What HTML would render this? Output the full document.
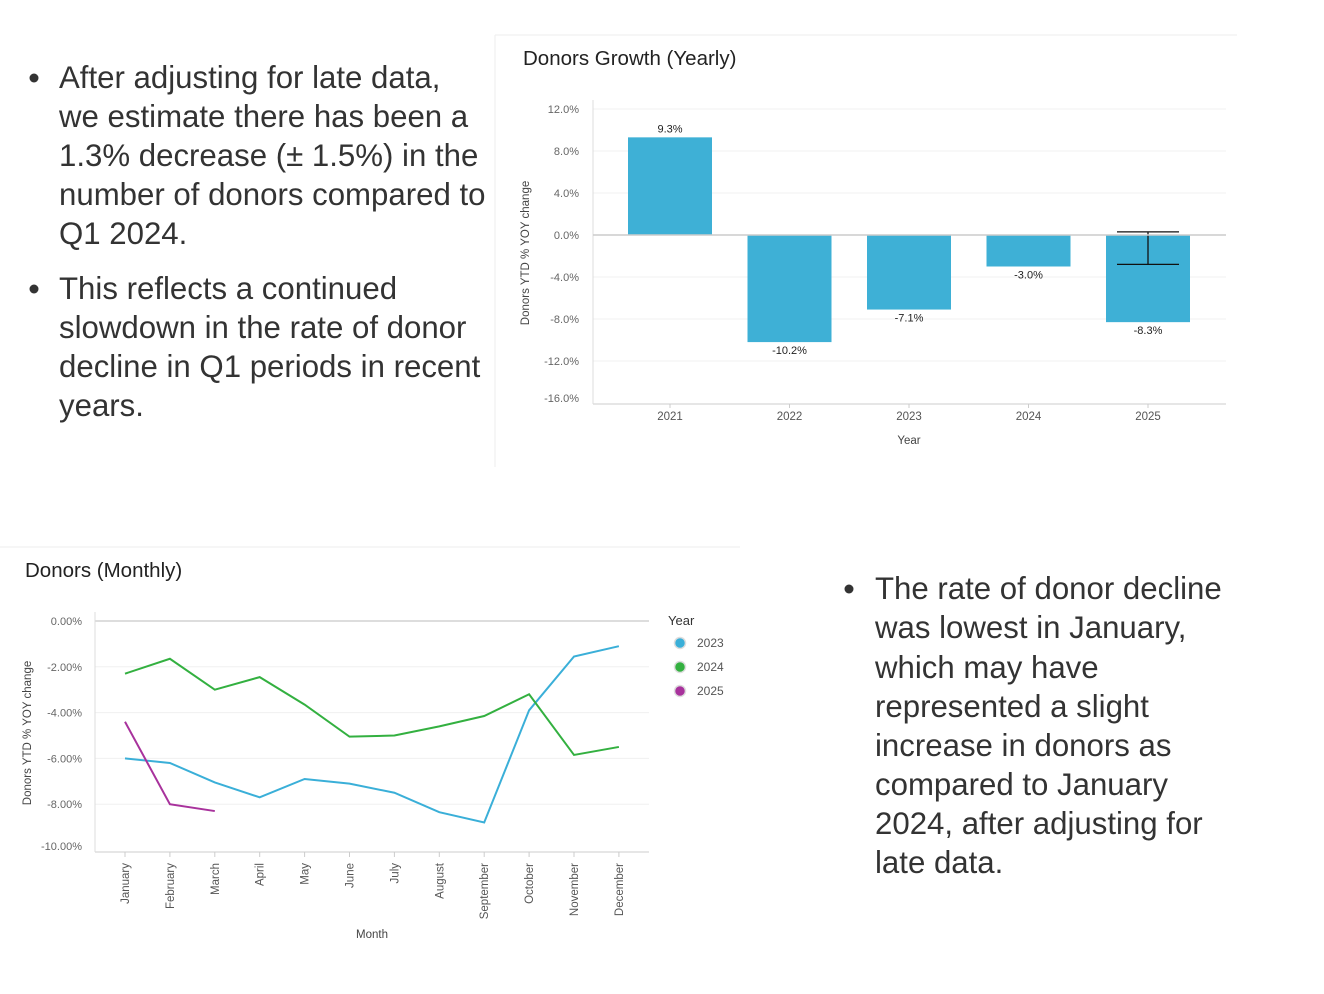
<!DOCTYPE html>
<html><head><meta charset="utf-8"><style>
body{margin:0;background:#fff;width:1324px;height:994px;overflow:hidden}
svg{display:block}
.t{font-family:"Liberation Sans",sans-serif;font-size:31.2px;fill:#333}
.s{font-family:"Liberation Sans",sans-serif}
</style></head><body>
<svg id="root" width="1324" height="994" xmlns="http://www.w3.org/2000/svg">
<g>
<circle cx="34" cy="78" r="4.5" fill="#333"/><circle cx="34" cy="289" r="4.5" fill="#333"/>
<text class="t" x="59" y="88">After adjusting for late data,</text>
<text class="t" x="59" y="127">we estimate there has been a</text>
<text class="t" x="59" y="166">1.3% decrease (± 1.5%) in the</text>
<text class="t" x="59" y="205">number of donors compared to</text>
<text class="t" x="59" y="244">Q1 2024.</text>
<text class="t" x="59" y="299">This reflects a continued</text>
<text class="t" x="59" y="338">slowdown in the rate of donor</text>
<text class="t" x="59" y="377">decline in Q1 periods in recent</text>
<text class="t" x="59" y="416">years.</text>
</g>
<g>
<circle cx="849" cy="589" r="4.5" fill="#333"/>
<text class="t" x="875" y="599">The rate of donor decline</text>
<text class="t" x="875" y="638">was lowest in January,</text>
<text class="t" x="875" y="678">which may have</text>
<text class="t" x="875" y="717">represented a slight</text>
<text class="t" x="875" y="756">increase in donors as</text>
<text class="t" x="875" y="795">compared to January</text>
<text class="t" x="875" y="834">2024, after adjusting for</text>
<text class="t" x="875" y="873">late data.</text>
</g>
<line x1="495" y1="35" x2="1237" y2="35" stroke="#eee"/>
<line x1="495" y1="35" x2="495" y2="467" stroke="#eee"/>
<line x1="0" y1="547" x2="740" y2="547" stroke="#eee"/>
<text class="s" x="523" y="65" font-size="20.5" fill="#222">Donors Growth (Yearly)</text>
<text class="s" x="25" y="577" font-size="20.5" fill="#222">Donors (Monthly)</text>
<g id="bar"></g>
<g id="line"></g>
</svg>
<script>
const NS='http://www.w3.org/2000/svg';
function mk(p,tag,a,txt){const e=document.createElementNS(NS,tag);for(const k in a)e.setAttribute(k,a[k]);if(txt!=null)e.textContent=txt;p.appendChild(e);return e;}
// ---- bar chart data
const years=['2021','2022','2023','2024','2025'];
const growth=[9.3,-10.2,-7.1,-3.0,-8.3];
const growthLabels=['9.3%','-10.2%','-7.1%','-3.0%','-8.3%'];
const barTicks=[12,8,4,0,-4,-8,-12,-16];
const errLow=[null,null,null,null,-2.8];
const errHigh=[null,null,null,null,0.3];
// ---- line chart data
const months=['January','February','March','April','May','June','July','August','September','October','November','December'];
const s2023=[-6.0,-6.2,-7.05,-7.7,-6.9,-7.1,-7.5,-8.35,-8.8,-3.9,-1.55,-1.1];
const s2024=[-2.3,-1.65,-3.0,-2.45,-3.65,-5.05,-5.0,-4.6,-4.15,-3.2,-5.85,-5.5];
const s2025=[-4.4,-8.0,-8.3];
const lineTicks=[0,-2,-4,-6,-8,-10];
const seriesNames=['2023','2024','2025'];
const seriesColors=['#3aafd8','#33b040','#a8329c'];

(function(){
 const g=document.getElementById('bar');
 const y=v=>235-v*10.5; const x0=593,x1=1226,step=119.5,b0=610.25;
 const x=i=>b0+step*(i+0.5);
 barTicks.forEach(t=>{
  if(t!==0&&t!==-16){const l=mk(g,'line',{x1:x0,x2:x1,y1:y(t),y2:y(t),stroke:'#f0f0f0'});}
  const tx=mk(g,'text',{x:579,y:(t===-16?398:y(t))+4,'text-anchor':'end','font-size':11,fill:'#666',class:'s'},t.toFixed(1)+'%');
  
 });
 mk(g,'line',{x1:x0,x2:x0,y1:100,y2:404,stroke:'#ddd'});
 mk(g,'line',{x1:x0,x2:x1,y1:404,y2:404,stroke:'#ddd','stroke-width':1.5});
 growth.forEach((v,i)=>{
  const r=mk(g,'rect',{x:x(i)-42,y:Math.min(y(v),y(0)),width:84,height:Math.abs(y(v)-y(0)),fill:'#3eb0d6'});
  
  const lb=mk(g,'text',{x:x(i),y:v>=0?y(v)-5:y(v)+12,'text-anchor':'middle','font-size':11,fill:'#222',class:'s'},growthLabels[i]);
  
  const xt=mk(g,'text',{x:x(i),y:420,'text-anchor':'middle','font-size':11.5,fill:'#555',class:'s'},years[i]);
  
  mk(g,'line',{x1:x(i),x2:x(i),y1:404,y2:408,stroke:'#ccc'});
  if(errLow[i]!=null){
   const e=mk(g,'g',{stroke:'#111','stroke-width':1.3});
   
   mk(e,'line',{x1:x(i),x2:x(i),y1:y(errHigh[i]),y2:y(errLow[i])});
   mk(e,'line',{x1:x(i)-31,x2:x(i)+31,y1:y(errHigh[i]),y2:y(errHigh[i])});
   mk(e,'line',{x1:x(i)-31,x2:x(i)+31,y1:y(errLow[i]),y2:y(errLow[i])});
  }
 });
 mk(g,'line',{x1:x0,x2:x1,y1:y(0),y2:y(0),stroke:'#ccc','stroke-width':1.5});
 const xa=mk(g,'text',{x:909,y:444,'text-anchor':'middle','font-size':11.5,fill:'#444',class:'s'},'Year');
 
 const ya=mk(g,'text',{x:0,y:0,transform:'translate(529,253) rotate(-90)','text-anchor':'middle','font-size':11.5,fill:'#444',class:'s'},'Donors YTD % YOY change');
 
})();

(function(){
 const g=document.getElementById('line');
 const y=v=>621-v*22.9; const x=i=>125+i*44.9;
 lineTicks.forEach(t=>{
  if(t!==0&&t!==-10){const l=mk(g,'line',{x1:95,x2:649,y1:y(t),y2:y(t),stroke:'#f0f0f0'});}
  const tx=mk(g,'text',{x:82,y:(t===-10?846:y(t))+4,'text-anchor':'end','font-size':11,fill:'#666',class:'s'},t.toFixed(2)+'%');
  
 });
 mk(g,'line',{x1:95,x2:649,y1:621,y2:621,stroke:'#bbb'});
 mk(g,'line',{x1:95,x2:95,y1:612,y2:852,stroke:'#ddd'});
 mk(g,'line',{x1:95,x2:649,y1:852,y2:852,stroke:'#ddd','stroke-width':1.5});
 months.forEach((m,i)=>{
  mk(g,'line',{x1:x(i),x2:x(i),y1:852,y2:857,stroke:'#ccc'});
  const t=mk(g,'text',{x:0,y:0,transform:`translate(${x(i)+4},863) rotate(-90)`,'text-anchor':'end','font-size':11.5,fill:'#555',class:'s'},m);
  
 });
 [s2023,s2024,s2025].forEach((s,k)=>{
  const p=mk(g,'polyline',{points:s.map((v,i)=>x(i)+','+y(v)).join(' '),fill:'none',stroke:seriesColors[k],'stroke-width':2});
  
 });
 const lt=mk(g,'text',{x:668,y:625,'font-size':13,fill:'#333',class:'s'},'Year');
 
 seriesNames.forEach((n,k)=>{
  const e=mk(g,'g',{});
  
  mk(e,'circle',{cx:680,cy:643+k*24,r:5.5,fill:seriesColors[k],stroke:'#ddd','stroke-width':1.5});
  mk(e,'text',{x:697,y:647+k*24,'font-size':12,fill:'#555',class:'s'},n);
 });
 const xa=mk(g,'text',{x:372,y:938,'text-anchor':'middle','font-size':11.5,fill:'#444',class:'s'},'Month');
 
 const ya=mk(g,'text',{x:0,y:0,transform:'translate(31,733) rotate(-90)','text-anchor':'middle','font-size':11.5,fill:'#444',class:'s'},'Donors YTD % YOY change');
 
})();
</script>
</body></html>
